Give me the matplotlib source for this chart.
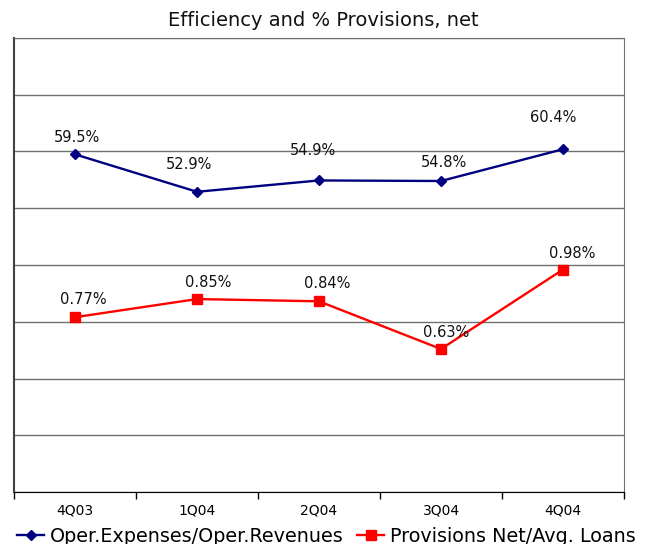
import matplotlib
matplotlib.use("Agg")
import matplotlib.pyplot as plt
import numpy as np

# data
quarters = ['4Q03', '1Q04', '2Q04', '3Q04', '4Q04']
efficiency = [59.5, 52.9, 54.9, 54.8, 60.4]       # % (left scale, 0-80)
provisions = [0.77, 0.85, 0.84, 0.63, 0.98]       # % (right scale, 0-2)

# label offsets in pixels (dx, dy) relative to each point
eff_offsets = [(2, 17), (-8, 27), (-6, 30), (3, 19), (-10, 32)]
prov_offsets = [(8, 18), (11, 17), (8, 18), (5, 16), (9, 16)]

plt.rcParams['font.family'] = 'DejaVu Sans'
px = 72 / 100.0

fig = plt.figure(figsize=(6.53, 5.44), dpi=100)
ax = fig.add_axes([14 / 653, 1 - 492 / 544, (624 - 14) / 653, (492 - 38) / 544])
ax2 = ax.twinx()

x = np.arange(len(quarters))

l1, = ax.plot(x, efficiency, color='#000080', lw=1.7, marker='D', ms=5,
              label='Oper.Expenses/Oper.Revenues', zorder=3)
l2, = ax2.plot(x, provisions, color='#FF0000', lw=1.7, marker='s', ms=6.5,
               label='Provisions Net/Avg. Loans', zorder=3)

for xi, v, (dx, dy) in zip(x, efficiency, eff_offsets):
    ax.annotate(f'{v:.1f}%', (xi, v), xytext=(dx * px, dy * px),
                textcoords='offset points', ha='center', va='center',
                fontsize=10.5, color='#111111')
for xi, v, (dx, dy) in zip(x, provisions, prov_offsets):
    ax2.annotate(f'{v:.2f}%', (xi, v), xytext=(dx * px, dy * px),
                 textcoords='offset points', ha='center', va='center',
                 fontsize=10.5, color='#111111')

ax.set_xlim(-0.5, len(quarters) - 0.5)
ax.set_ylim(0, 80)
ax2.set_ylim(0, 2.0)

# gridlines every 10%
ax.set_yticks(np.arange(0, 81, 10))
ax.yaxis.grid(True, color='#707070', lw=1.0)
ax.set_axisbelow(True)
ax.tick_params(axis='y', left=False, labelleft=False)
ax2.tick_params(axis='y', right=False, labelright=False)

# category boundaries as ticks, labels centred
ax.set_xticks(np.arange(-0.5, len(quarters), 1.0))
ax.set_xticklabels([])
ax.set_xticks(x, minor=True)
ax.set_xticklabels(quarters, minor=True, fontsize=10)
ax.tick_params(axis='x', which='major', direction='out', length=5, width=1, color='black')
ax.tick_params(axis='x', which='minor', length=0, pad=8.5)

for s in ['top', 'right']:
    ax.spines[s].set_color('#707070')
ax.spines['left'].set_color('#404040')
ax.spines['left'].set_linewidth(1.5)
ax.spines['bottom'].set_color('black')
for s in ax2.spines.values():
    s.set_visible(False)

fig.text(323 / 653, 1 - 21 / 544, 'Efficiency and % Provisions, net',
         ha='center', va='center', fontsize=14, color='#111111')

fig.legend(handles=[l1, l2], loc='center', ncol=2, frameon=False,
           bbox_to_anchor=(0.5, 1 - 536 / 544), fontsize=13.8,
           handlelength=1.4, handletextpad=0.3, columnspacing=0.7,
           borderaxespad=0)

fig.savefig('out.png', dpi=100)
